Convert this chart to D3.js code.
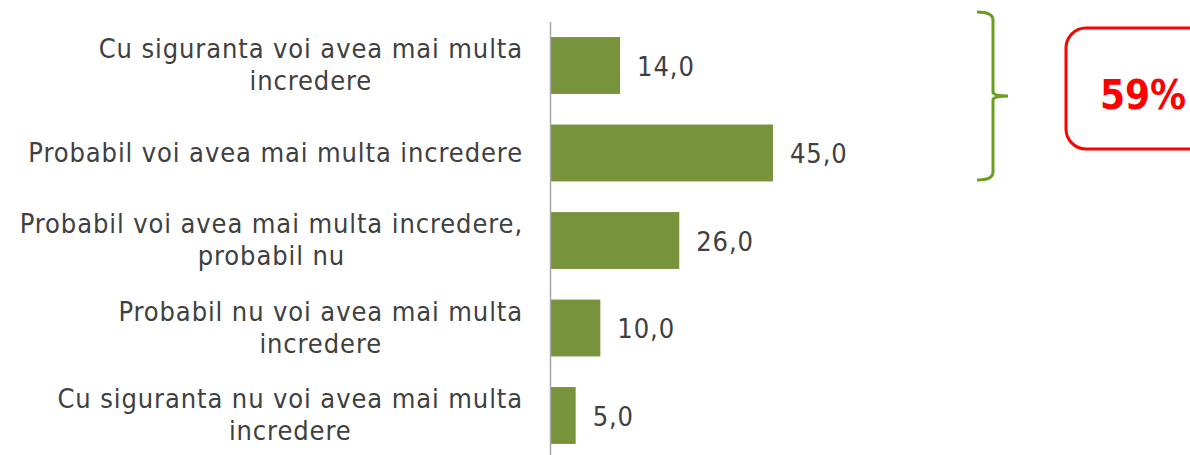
<!DOCTYPE html>
<html>
<head>
<meta charset="utf-8">
<script src="https://cdn.jsdelivr.net/npm/d3@7"></script>
<style>
  body { margin: 0; background: #fff; }
  text { font-family: "DejaVu Sans Condensed", "DejaVu Sans", sans-serif; font-stretch: condensed; }
</style>
</head>
<body>
<div id="chart"></div>
<script>
// categories (split into display lines) and values
const categories = [
  ["Cu siguranta voi avea mai multa", "incredere"],
  ["Probabil voi avea mai multa incredere"],
  ["Probabil voi avea mai multa incredere,", "probabil nu"],
  ["Probabil nu voi avea mai multa", "incredere"],
  ["Cu siguranta nu voi avea mai multa", "incredere"]
];
const values = [14.0, 45.0, 26.0, 10.0, 5.0];
const totalLabel = "59%";

let width = 1190, height = 455;

let svg = d3.select("#chart")
    .append("svg")
    .attr("width", width)
    .attr("height", height);

let data = categories.map((c, i) => ({ id: i, lines: c, value: values[i] }));

// scales
let x = d3.scaleLinear()
    .domain([0, 45])
    .range([551, 773]);

let y = d3.scaleBand()
    .domain(data.map(d => d.id))
    .range([21.75, 459.25])
    .paddingInner(0.35)
    .paddingOuter(0.175);

// bars
svg.append("g")
    .selectAll("rect")
    .data(data)
    .enter()
    .append("rect")
    .attr("x", x(0))
    .attr("y", d => y(d.id))
    .attr("width", d => x(d.value) - x(0))
    .attr("height", y.bandwidth())
    .attr("fill", "#77933C");

// axis line
svg.append("line")
    .attr("x1", 550.5).attr("x2", 550.5)
    .attr("y1", 22).attr("y2", height)
    .attr("stroke", "#A6A6A6")
    .attr("stroke-width", 1.5);

// category labels
let fs = 27, lineH = 32;
let labels = svg.append("g")
    .selectAll("text")
    .data(data)
    .enter()
    .append("text")
    .attr("font-size", fs)
    .attr("letter-spacing", 0.9)
    .attr("fill", "#404040")
    .each(function(d) {
        let cy = y(d.id) + y.bandwidth() / 2;
        let n = d.lines.length;
        let t = d3.select(this);
        d.lines.forEach((l, k) => {
            t.append("tspan")
                .attr("x", 523)
                .attr("text-anchor", "end")
                .attr("y", cy + (k - (n - 1) / 2) * lineH + 8.5)
                .text(l);
        });
    });

// center wrapped lines under the first (reference labels are centered blocks)
labels.each(function(d) {
    if (d.lines.length < 2) return;
    let spans = d3.select(this).selectAll("tspan").nodes();
    let w0 = spans[0].getComputedTextLength();
    let mid = 523 - w0 / 2;
    spans.forEach(s => {
        d3.select(s).attr("x", mid).attr("text-anchor", "middle");
    });
});

// value labels
svg.append("g")
    .selectAll("text")
    .data(data)
    .enter()
    .append("text")
    .attr("x", d => x(d.value) + 17)
    .attr("y", d => y(d.id) + y.bandwidth() / 2 + 10)
    .attr("font-size", fs)
    .attr("letter-spacing", 0.9)
    .attr("fill", "#404040")
    .text(d => d3.format(".1f")(d.value).replace(".", ","));

// bracket around first two bars
let bTop = 12, bBot = 180, bx = 993, bMid = 96;
svg.append("path")
    .attr("d", `M977,${bTop} Q${bx},${bTop} ${bx},${bTop + 8} L${bx},${bMid - 4} Q${bx},${bMid} 1008,${bMid} ` +
               `M${bx},${bMid + 4} Q${bx},${bMid} 1008,${bMid} M${bx},${bMid + 4} L${bx},${bBot - 8} Q${bx},${bBot} 977,${bBot}`)
    .attr("fill", "none")
    .attr("stroke", "#6A9E1F")
    .attr("stroke-width", 3);

// total box
svg.append("rect")
    .attr("x", 1066).attr("y", 28)
    .attr("width", 150).attr("height", 121)
    .attr("rx", 20)
    .attr("fill", "#fff")
    .attr("stroke", "#FF0000")
    .attr("stroke-width", 3);

svg.append("text")
    .attr("x", 1143).attr("y", 109)
    .attr("text-anchor", "middle")
    .attr("font-size", 40)
    .attr("font-weight", "bold")
    .attr("fill", "#FF0000")
    .text(totalLabel);
</script>
</body>
</html>
